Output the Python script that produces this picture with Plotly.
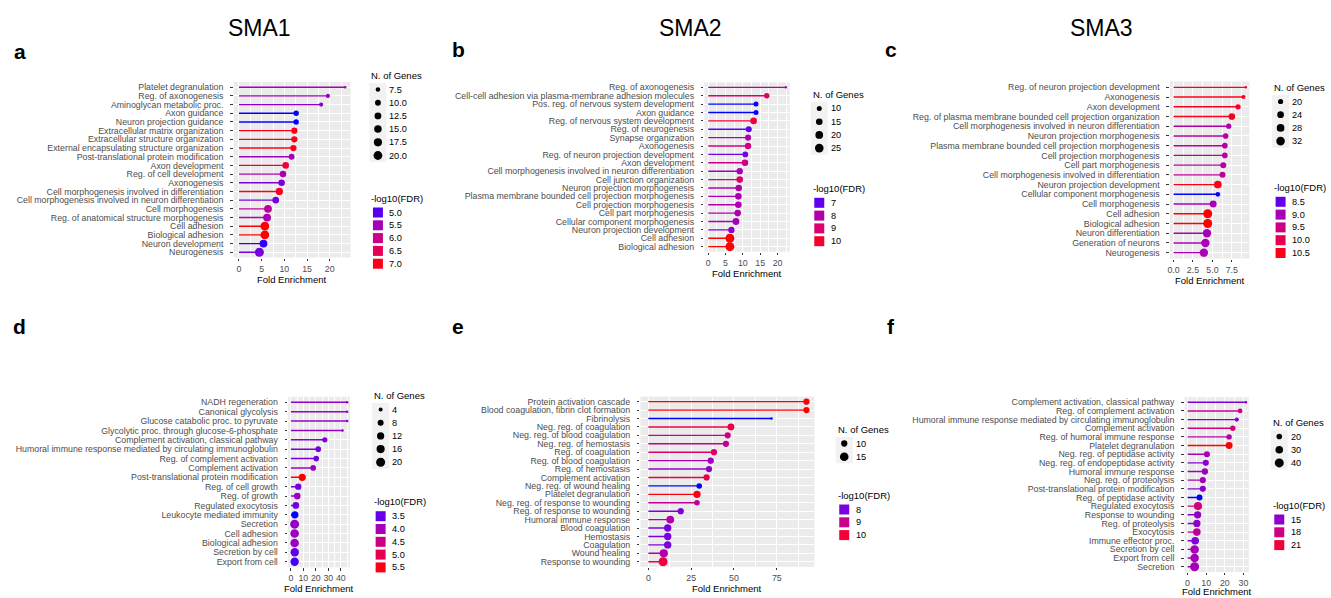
import numpy as np
import plotly.graph_objects as go

W, H = 1331, 598
FONT = "Liberation Sans, Arial, Helvetica, sans-serif"

# ------------------------------------------------------------------ data
a_terms = ["Platelet degranulation", "Reg. of axonogenesis", "Aminoglycan metabolic proc.", "Axon guidance",
           "Neuron projection guidance", "Extracellular matrix organization", "Extracellular structure organization",
           "External encapsulating structure organization", "Post-translational protein modification",
           "Axon development", "Reg. of cell development", "Axonogenesis",
           "Cell morphogenesis involved in differentiation", "Cell morphogenesis involved in neuron differentiation",
           "Cell morphogenesis", "Reg. of anatomical structure morphogenesis", "Cell adhesion",
           "Biological adhesion", "Neuron development", "Neurogenesis"]
a_fold = [23.4, 19.6, 18.1, 12.6, 12.6, 12.2, 12.2, 12.0, 11.6, 10.3, 9.7, 9.4, 8.9, 8.1, 6.4, 6.2, 5.7, 5.7, 5.4, 4.5]
a_genes = [6, 7, 7, 9, 9, 11, 11, 11, 10, 12, 12, 12, 14, 12, 16, 16, 20, 20, 16, 21]
a_fdr = [5.5, 5.4, 5.3, 4.85, 4.85, 7.0, 7.0, 7.0, 5.5, 6.8, 5.6, 5.2, 6.9, 5.15, 5.8, 5.6, 7.1, 7.1, 4.9, 5.15]
a_size_breaks = [7.5, 10, 12.5, 15, 17.5, 20]
a_size_labels = ["7.5", "10.0", "12.5", "15.0", "17.5", "20.0"]
a_fdr_breaks = [5.0, 5.5, 6.0, 6.5, 7.0]
a_fdr_labels = ["5.0", "5.5", "6.0", "6.5", "7.0"]

b_terms = ["Reg. of axonogenesis", "Cell-cell adhesion via plasma-membrane adhesion molecules",
           "Pos. reg. of nervous system development", "Axon guidance", "Reg. of nervous system development",
           "Reg. of neurogenesis", "Synapse organization", "Axonogenesis", "Reg. of neuron projection development",
           "Axon development", "Cell morphogenesis involved in neuron differentiation", "Cell junction organization",
           "Neuron projection morphogenesis", "Plasma membrane bounded cell projection morphogenesis",
           "Cell projection morphogenesis", "Cell part morphogenesis", "Cellular component morphogenesis",
           "Neuron projection development", "Cell adhesion", "Biological adhesion"]
b_fold = [22.4, 16.9, 13.8, 13.8, 13.1, 11.7, 11.5, 11.5, 10.7, 10.6, 9.1, 9.1, 8.8, 8.7, 8.7, 8.5, 8.0, 6.7, 6.25, 6.25]
b_genes = [7, 11, 10, 10, 15, 13, 13, 14, 12, 15, 14, 15, 15, 15, 15, 15, 16, 14, 27, 27]
b_fdr = [8.0, 9.1, 6.7, 6.7, 9.7, 7.0, 8.0, 8.7, 7.2, 8.6, 7.8, 9.2, 8.0, 7.9, 8.0, 7.9, 7.8, 7.4, 10.4, 10.4]
b_size_breaks = [10, 15, 20, 25]
b_size_labels = ["10", "15", "20", "25"]
b_fdr_breaks = [7, 8, 9, 10]
b_fdr_labels = ["7", "8", "9", "10"]

c_terms = ["Reg. of neuron projection development", "Axonogenesis", "Axon development",
           "Reg. of plasma membrane bounded cell projection organization",
           "Cell morphogenesis involved in neuron differentiation", "Neuron projection morphogenesis",
           "Plasma membrane bounded cell projection morphogenesis", "Cell projection morphogenesis",
           "Cell part morphogenesis", "Cell morphogenesis involved in differentiation",
           "Neuron projection development", "Cellular component morphogenesis", "Cell morphogenesis",
           "Cell adhesion", "Biological adhesion", "Neuron differentiation", "Generation of neurons", "Neurogenesis"]
c_fold = [9.3, 9.0, 8.3, 7.5, 7.1, 6.7, 6.6, 6.6, 6.4, 6.3, 5.7, 5.7, 5.1, 4.4, 4.4, 4.3, 4.1, 3.9]
c_genes = [17, 18, 20, 24, 20, 21, 21, 21, 22, 22, 28, 19, 25, 34, 34, 31, 31, 31]
c_fdr = [10.5, 10.5, 10.4, 10.5, 9.1, 9.2, 9.2, 9.2, 9.2, 9.3, 10.5, 8.3, 9.0, 10.6, 10.6, 9.0, 9.0, 9.0]
c_size_breaks = [20, 24, 28, 32]
c_size_labels = ["20", "24", "28", "32"]
c_fdr_breaks = [8.5, 9.0, 9.5, 10.0, 10.5]
c_fdr_labels = ["8.5", "9.0", "9.5", "10.0", "10.5"]

d_terms = ["NADH regeneration", "Canonical glycolysis", "Glucose catabolic proc. to pyruvate",
           "Glycolytic proc. through glucose-6-phosphate", "Complement activation, classical pathway",
           "Humoral immune response mediated by circulating immunoglobulin", "Reg. of complement activation",
           "Complement activation", "Post-translational protein modification", "Reg. of cell growth",
           "Reg. of growth", "Regulated exocytosis", "Leukocyte mediated immunity", "Secretion", "Cell adhesion",
           "Biological adhesion", "Secretion by cell", "Export from cell"]
d_fold = [45.1, 45.1, 45.1, 41.4, 27.2, 21.9, 20.3, 17.9, 9.1, 5.9, 5.1, 4.0, 3.2, 3.0, 3.0, 3.0, 3.1, 3.0]
d_genes = [3, 3, 3, 3, 6, 7, 7, 7, 12, 9, 10, 10, 12, 20, 18, 18, 17, 17]
d_fdr = [3.8, 3.8, 3.8, 3.8, 3.7, 3.6, 3.6, 3.9, 5.6, 3.6, 3.9, 3.6, 3.3, 3.8, 3.9, 3.9, 3.5, 3.4]
d_size_breaks = [4, 8, 12, 16, 20]
d_size_labels = ["4", "8", "12", "16", "20"]
d_fdr_breaks = [3.5, 4.0, 4.5, 5.0, 5.5]
d_fdr_labels = ["3.5", "4.0", "4.5", "5.0", "5.5"]

e_terms = ["Protein activation cascade", "Blood coagulation, fibrin clot formation", "Fibrinolysis",
           "Neg. reg. of coagulation", "Neg. reg. of blood coagulation", "Neg. reg. of hemostasis",
           "Reg. of coagulation", "Reg. of blood coagulation", "Reg. of hemostasis", "Complement activation",
           "Neg. reg. of wound healing", "Platelet degranulation", "Neg. reg. of response to wounding",
           "Reg. of response to wounding", "Humoral immune response", "Blood coagulation", "Hemostasis",
           "Coagulation", "Wound healing", "Response to wounding"]
e_fold = [92.3, 92.3, 71.9, 48.2, 46.3, 45.3, 38.3, 36.4, 35.4, 34.0, 29.7, 28.4, 28.4, 18.9, 12.8, 11.3, 11.3, 11.3, 9.0, 8.6]
e_genes = [10, 10, 7, 11, 10, 10, 10, 10, 10, 10, 9, 12, 9, 10, 13, 12, 12, 12, 14, 16]
e_fdr = [10.4, 10.4, 7.6, 9.8, 9.0, 8.9, 9.4, 8.4, 8.2, 9.7, 7.6, 10.3, 8.8, 8.0, 8.6, 8.0, 8.0, 8.0, 8.6, 9.9]
e_size_breaks = [10, 15]
e_size_labels = ["10", "15"]
e_fdr_breaks = [8, 9, 10]
e_fdr_labels = ["8", "9", "10"]

f_terms = ["Complement activation, classical pathway", "Reg. of complement activation",
           "Humoral immune response mediated by circulating immunoglobulin", "Complement activation",
           "Reg. of humoral immune response", "Platelet degranulation", "Neg. reg. of peptidase activity",
           "Neg. reg. of endopeptidase activity", "Humoral immune response", "Neg. reg. of proteolysis",
           "Post-translational protein modification", "Reg. of peptidase activity", "Regulated exocytosis",
           "Response to wounding", "Reg. of proteolysis", "Exocytosis", "Immune effector proc.",
           "Secretion by cell", "Export from cell", "Secretion"]
f_fold = [31.3, 28.2, 26.4, 24.3, 22.3, 22.3, 10.4, 9.8, 9.3, 8.2, 8.2, 6.4, 5.6, 5.4, 5.0, 5.0, 4.1, 3.8, 3.8, 3.8]
f_genes = [14, 17, 16, 19, 19, 26, 22, 22, 23, 22, 22, 22, 33, 28, 28, 30, 30, 36, 36, 40]
f_fdr = [14.5, 17.5, 14.5, 18.5, 16.5, 22.5, 16.0, 14.8, 15.5, 16.0, 14.8, 13.0, 18.5, 15.0, 15.0, 17.0, 14.5, 15.8, 15.8, 15.8]
f_size_breaks = [20, 30, 40]
f_size_labels = ["20", "30", "40"]
f_fdr_breaks = [15, 18, 21]
f_fdr_labels = ["15", "18", "21"]

column_titles = ["SMA1", "SMA2", "SMA3"]

# ------------------------------------------------------------------ colour helpers (Lab gradient blue -> red)
M = np.array([[0.4124564, 0.3575761, 0.1804375],
              [0.2126729, 0.7151522, 0.0721750],
              [0.0193339, 0.1191920, 0.9503041]])
WHITE = np.array([0.95047, 1.0, 1.08883])
DELTA = 6 / 29


def rgb2lab(rgb):
    c = np.asarray(rgb, float) / 255
    lin = np.where(c <= 0.04045, c / 12.92, ((c + 0.055) / 1.055) ** 2.4)
    xyz = M @ lin / WHITE
    f = np.where(xyz > DELTA ** 3, np.cbrt(xyz), xyz / (3 * DELTA ** 2) + 4 / 29)
    return np.array([116 * f[1] - 16, 500 * (f[0] - f[1]), 200 * (f[1] - f[2])])


def lab2rgb(lab):
    L, a, b = lab
    fy = (L + 16) / 116
    f = np.array([fy + a / 500, fy, fy - b / 200])
    xyz = np.where(f > DELTA, f ** 3, 3 * DELTA ** 2 * (f - 4 / 29)) * WHITE
    lin = np.clip(np.linalg.solve(M, xyz), 0, 1)
    c = np.where(lin <= 0.0031308, 12.92 * lin, 1.055 * lin ** (1 / 2.4) - 0.055)
    r, g, bb = [int(round(v * 255)) for v in np.clip(c, 0, 1)]
    return f"rgb({r},{g},{bb})"


LOW, HIGH = rgb2lab([0, 0, 255]), rgb2lab([255, 0, 0])


def grad(v, lo, hi):
    t = min(max((v - lo) / (hi - lo), 0), 1)
    return lab2rgb(LOW + (HIGH - LOW) * t)


DMIN, DMAX = 2.5, 9.0


def diam(n, lo, hi):
    t = min(max((n - lo) / (hi - lo), 0), 1)
    return DMIN + (DMAX - DMIN) * np.sqrt(t)


# ------------------------------------------------------------------ layout definitions
panels = [
    dict(letter="a", terms=a_terms, fold=a_fold, genes=a_genes, fdr=a_fdr,
         sb=a_size_breaks, sl=a_size_labels, cb=a_fdr_breaks, cl=a_fdr_labels,
         dtick=5, fmt="", box=(232, 82, 349, 257.5), leg=(368, 75, 198), let=(18, 52), tt=22.3),
    dict(letter="b", terms=b_terms, fold=b_fold, genes=b_genes, fdr=b_fdr,
         sb=b_size_breaks, sl=b_size_labels, cb=b_fdr_breaks, cl=b_fdr_labels,
         dtick=5, fmt="", box=(703.4, 82.3, 788.9, 251.7), leg=(810, 94, 188.3), let=(457, 50), tt=22.3),
    dict(letter="c", terms=c_terms, fold=c_fold, genes=c_genes, fdr=c_fdr,
         sb=c_size_breaks, sl=c_size_labels, cb=c_fdr_breaks, cl=c_fdr_labels,
         dtick=2.5, fmt=".1f", box=(1169.7, 81.5, 1249.3, 258.5), leg=(1272, 87, 187.3), let=(890, 50), tt=22.3),
    dict(letter="d", terms=d_terms, fold=d_fold, genes=d_genes, fdr=d_fdr,
         sb=d_size_breaks, sl=d_size_labels, cb=d_fdr_breaks, cl=d_fdr_labels,
         dtick=10, fmt="", box=(286.5, 396.7, 348.5, 567.3), leg=(370.7, 395, 501.7), let=(18, 326), tt=21.5),
    dict(letter="e", terms=e_terms, fold=e_fold, genes=e_genes, fdr=e_fdr,
         sb=e_size_breaks, sl=e_size_labels, cb=e_fdr_breaks, cl=e_fdr_labels,
         dtick=25, fmt="", box=(639.4, 396.6, 813.6, 566.8), leg=(835, 429, 495), let=(457, 326), tt=21.5),
    dict(letter="f", terms=f_terms, fold=f_fold, genes=f_genes, fdr=f_fdr,
         sb=f_size_breaks, sl=f_size_labels, cb=f_fdr_breaks, cl=f_fdr_labels,
         dtick=10, fmt="", box=(1184.4, 397.1, 1248.7, 571.9), leg=(1270.7, 422, 505), let=(890, 326), tt=19.5),
]
title_pos = [(258, 28), (690, 28), (1101, 28)]


def px(x):
    return x / W


def py(y):
    return 1 - y / H


fig = go.Figure()
shapes, annotations = [], []
TICKCOL = "#4D4D4D"

for k, p in enumerate(panels, start=1):
    xa, ya = f"x{k}" if k > 1 else "x", f"y{k}" if k > 1 else "y"
    n = len(p["terms"])
    glo, ghi = min(p["genes"]), max(p["genes"])
    flo, fhi = min(p["fdr"]), max(p["fdr"])
    cols = [grad(v, flo, fhi) for v in p["fdr"]]
    sizes = [diam(g, glo, ghi) for g in p["genes"]]
    # segments
    for term, v, c in zip(p["terms"], p["fold"], cols):
        fig.add_trace(go.Scatter(x=[0, v], y=[term, term], mode="lines", xaxis=xa, yaxis=ya,
                                 line=dict(color=c, width=1.4), showlegend=False, hoverinfo="skip"))
    fig.add_trace(go.Scatter(x=p["fold"], y=p["terms"], mode="markers", xaxis=xa, yaxis=ya,
                             marker=dict(color=cols, size=sizes, line=dict(width=0), opacity=1),
                             showlegend=False))
    L, T, R, B = p["box"]
    vmax = max(p["fold"])
    xr = [-0.05 * vmax, 1.05 * vmax]
    axx = dict(domain=[px(L), px(R)], range=xr, anchor=ya, showgrid=True, gridcolor="white", gridwidth=1.1,
               zeroline=False, ticks="outside", ticklen=2.5, tickwidth=0.9, tickcolor="#333333",
               tick0=0, dtick=p["dtick"], tickformat=p["fmt"],
               tickfont=dict(family=FONT, size=8.8, color=TICKCOL), showline=False,
               minor=dict(dtick=p["dtick"] / 2, tick0=0, showgrid=True, gridcolor="white", gridwidth=0.5, ticks=""))
    axy = dict(domain=[py(B), py(T)], type="category", categoryorder="array", categoryarray=p["terms"],
               range=[n - 0.4, -0.6], anchor=xa, showgrid=True, gridcolor="white", gridwidth=1.1,
               zeroline=False, ticks="outside", ticklen=2.5, tickwidth=0.9, tickcolor="#333333",
               tickmode="array", tickvals=p["terms"], ticktext=p["terms"], ticklabelstandoff=5,
               tickfont=dict(family=FONT, size=8.8, color=TICKCOL), showline=False)
    fig.update_layout({("xaxis" if k == 1 else f"xaxis{k}"): axx, ("yaxis" if k == 1 else f"yaxis{k}"): axy})

    # x axis title
    annotations.append(dict(text="Fold Enrichment", x=px((L + R) / 2), y=py(B + p["tt"]), xref="paper",
                            yref="paper", showarrow=False, xanchor="center", yanchor="middle",
                            font=dict(family=FONT, size=9.5, color="black")))
    # panel letter
    lx, ly = p["let"]
    annotations.append(dict(text=f"<b>{p['letter']}</b>", x=px(lx), y=py(ly), xref="paper", yref="paper",
                            showarrow=False, xanchor="center", yanchor="middle",
                            font=dict(family=FONT, size=21, color="black")))
    # legends
    gx, gty, cty = p["leg"]
    keyx = gx + 8.5
    textx = gx + 18
    annotations.append(dict(text="N. of Genes", x=px(gx), y=py(gty), xref="paper", yref="paper",
                            showarrow=False, xanchor="left", yanchor="middle",
                            font=dict(family=FONT, size=9.5, color="black")))
    ys = [gty + 14.5 + 13.2 * i for i in range(len(p["sb"]))]
    shapes.append(dict(type="rect", xref="paper", yref="paper", x0=px(keyx - 8.5), x1=px(keyx + 8.5),
                       y0=py(ys[0] - 6.6), y1=py(ys[-1] + 6.6), fillcolor="#F2F2F2", line=dict(width=0),
                       layer="below"))
    for brk, lab, yy in zip(p["sb"], p["sl"], ys):
        d = diam(brk, glo, ghi)
        shapes.append(dict(type="circle", xref="paper", yref="paper", x0=px(keyx - d / 2), x1=px(keyx + d / 2),
                           y0=py(yy + d / 2), y1=py(yy - d / 2), fillcolor="black", line=dict(width=0)))
        annotations.append(dict(text=lab, x=px(textx), y=py(yy), xref="paper", yref="paper", showarrow=False,
                                xanchor="left", yanchor="middle", font=dict(family=FONT, size=9.2, color="black")))
    annotations.append(dict(text="-log10(FDR)", x=px(gx), y=py(cty), xref="paper", yref="paper",
                            showarrow=False, xanchor="left", yanchor="middle",
                            font=dict(family=FONT, size=9.5, color="black")))
    for i, (brk, lab) in enumerate(zip(p["cb"], p["cl"])):
        yy = cty + 14.5 + 12.8 * i
        shapes.append(dict(type="rect", xref="paper", yref="paper", x0=px(keyx - 5), x1=px(keyx + 5),
                           y0=py(yy + 5), y1=py(yy - 5), fillcolor=grad(brk, flo, fhi), line=dict(width=0)))
        annotations.append(dict(text=lab, x=px(textx), y=py(yy), xref="paper", yref="paper", showarrow=False,
                                xanchor="left", yanchor="middle", font=dict(family=FONT, size=9.2, color="black")))

for t, (tx, ty) in zip(column_titles, title_pos):
    annotations.append(dict(text=t, x=px(tx), y=py(ty), xref="paper", yref="paper", showarrow=False,
                            xanchor="center", yanchor="middle", font=dict(family=FONT, size=23, color="black")))

fig.update_layout(width=W, height=H, margin=dict(l=0, r=0, t=0, b=0), paper_bgcolor="white",
                  plot_bgcolor="#EBEBEB", showlegend=False, shapes=shapes, annotations=annotations,
                  font=dict(family=FONT))
fig.write_html("out.html")
